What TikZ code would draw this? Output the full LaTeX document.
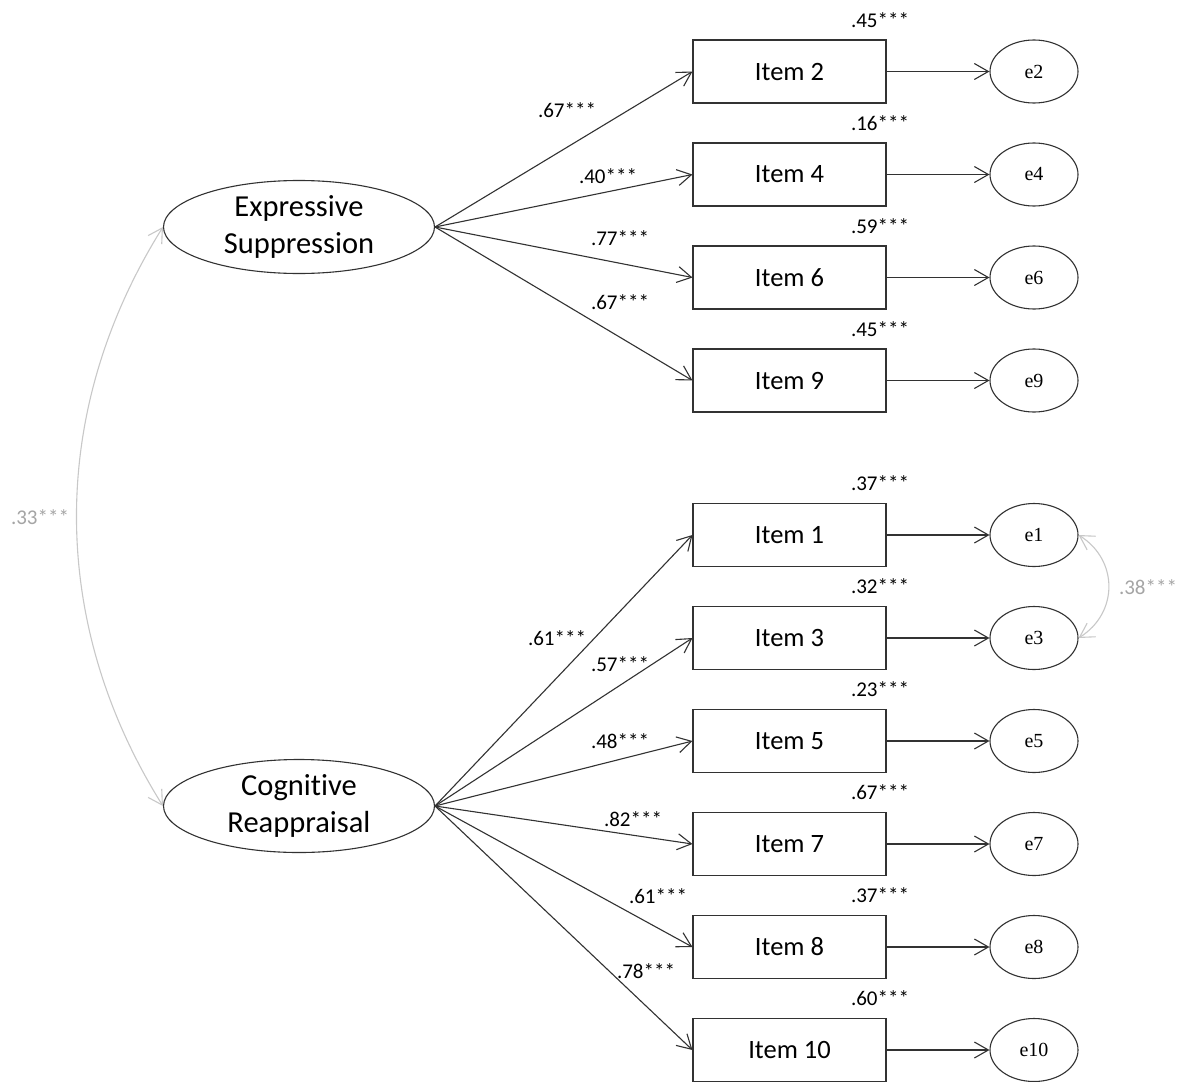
\documentclass[tikz,border=0pt]{standalone}
\usepackage{fontspec}
\setmainfont[Ligatures=NoCommon]{Carlito}
\newfontfamily\efont{Liberation Serif}
\usetikzlibrary{arrows.meta,shapes.geometric,calc}
\definecolor{lnc}{RGB}{50,50,50}
\definecolor{covline}{RGB}{200,200,200}
\definecolor{covtext}{RGB}{165,165,165}
\begin{document}
\begin{tikzpicture}[x=1pt,y=-1pt,
  line width=1.1pt,
  barb/.style={draw=lnc,-{Straight Barb[length=14pt,width=16pt,line width=1.1pt]}},
  cov/.style={draw=covline,{Straight Barb[length=14pt,width=16pt,line width=1.1pt]}-{Straight Barb[length=14pt,width=16pt,line width=1.1pt]}},
  itembox/.style={draw=lnc,rectangle,minimum width=193pt,minimum height=63pt,inner sep=0pt,font=\fontsize{26.5}{30}\selectfont},
  latent/.style={draw=lnc,ellipse,minimum width=271pt,minimum height=93pt,inner sep=0pt,align=center,font=\fontsize{30.5}{37}\selectfont},
  err/.style={draw=lnc,ellipse,minimum width=88pt,minimum height=63pt,inner sep=0pt,font=\efont\fontsize{20}{24}\selectfont},
  num/.style={inner sep=0pt,font=\fontsize{21}{24}\selectfont},
  covnum/.style={num,text=covtext}
]
\useasboundingbox (0,0) rectangle (1185,1081);
\fill[white] (0,0) rectangle (1185,1081);

% latent factors
\node[latent] (es) at (299,227) {Expressive\\Suppression};
\node[latent] (cr) at (299,806) {Cognitive\\Reappraisal};

% items and errors
\foreach \n/\y in {2/71.5,4/174.5,6/277.5,9/380.5,1/535,3/638,5/741,7/844,8/947,10/1050}{
  \node[itembox] (i\n) at (789.5,\y) {Item \n};
  \node[err] (e\n) at (1034,\y) {e\n};
  \draw[barb] (i\n.east) -- (e\n.west);
}

% loadings
\foreach \n in {2,4,6,9}{ \draw[barb] (es.east) -- (i\n.west); }
\foreach \n in {1,3,5,7,8,10}{ \draw[barb] (cr.east) -- (i\n.west); }

% loading labels
\node[num] (l2) at (567,110) {.67***};
\node[num] (l4) at (608,176) {.40***};
\node[num] (l6) at (620,238) {.77***};
\node[num] (l9) at (620,302) {.67***};
\node[num] (l1) at (557,638) {.61***};
\node[num] (l3) at (620,664) {.57***};
\node[num] (l5) at (620,741) {.48***};
\node[num] (l7) at (633,819) {.82***};
\node[num] (l8) at (658,896) {.61***};
\node[num] (l10) at (646,971) {.78***};

% R-squared labels
\foreach \n/\y/\t in {2/71.5/.45,4/174.5/.16,6/277.5/.59,9/380.5/.45,1/535/.37,3/638/.32,5/741/.23,7/844/.67,8/947/.37,10/1050/.60}{
  \node[num] (r\n) at (880,\y-51.5) {\t***};
}

% covariances
\draw[cov] (es.west) .. controls ($(es.west)+(-115,184)$) and ($(cr.west)+(-115,-184)$) .. (cr.west);
\node[covnum] (c1) at (40,517) {.33***};
\draw[cov] (e1.east) .. controls ($(e1.east)+(40,25)$) and ($(e3.east)+(40,-25)$) .. (e3.east);
\node[covnum] (c2) at (1148,587) {.38***};
\end{tikzpicture}
\end{document}
